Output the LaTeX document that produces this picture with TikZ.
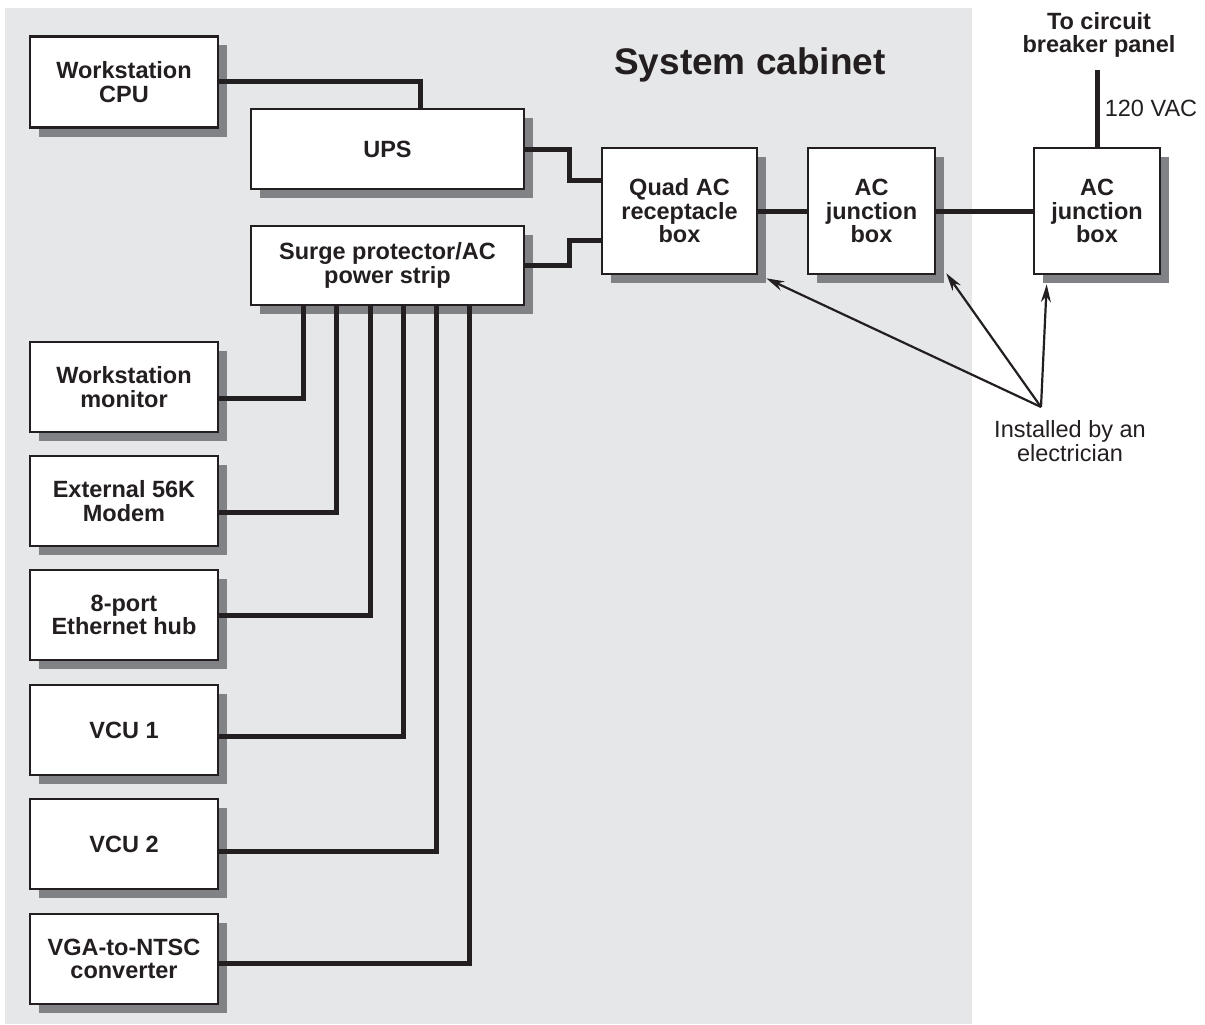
\documentclass[tikz,border=0pt]{standalone}
\usepackage{fontspec}
\setmainfont{Liberation Sans}
\usetikzlibrary{arrows.meta,shadows}
\definecolor{cabinetgray}{HTML}{E6E7E8}
\definecolor{shadowgray}{HTML}{808285}
\definecolor{ink}{HTML}{231F20}
\tikzset{
  devbox/.style={draw=ink, line width=2.6pt, fill=white, align=center, inner sep=2pt,
    font=\bfseries\fontsize{23.5}{23.5}\selectfont, text=ink,
    drop shadow={shadow xshift=9pt, shadow yshift=-9pt, fill=shadowgray, opacity=1}},
  wire/.style={draw=ink, line width=5pt},
  pointline/.style={draw=ink, line width=2.2pt, -{Stealth[length=18pt,width=10pt]}},
  note/.style={align=center, text=ink, font=\fontsize{23.5}{23.5}\selectfont},
}
\begin{document}
\begin{tikzpicture}[x=1pt, y=-1pt]
  \useasboundingbox (0,0) rectangle (1205,1025);
  \fill[cabinetgray] (5,8) rectangle (972,1024);
  \node[text=ink, font=\bfseries\fontsize{37}{37}\selectfont] (title) at (750,65) {System cabinet};

  % power chain
  \node[devbox, minimum width=188pt, minimum height=91pt] (cpu) at (124,82) {Workstation\\CPU};
  \node[devbox, minimum width=273pt, minimum height=80pt] (ups) at (387.5,149) {UPS};
  \node[devbox, minimum width=273pt, minimum height=79pt] (surge) at (387.5,265.5) {Surge protector/AC\\power strip};
  \node[devbox, minimum width=155pt, minimum height=126pt] (quad) at (679.5,211) {Quad AC\\receptacle\\box};
  \node[devbox, minimum width=127pt, minimum height=126pt] (jbox) at (871.5,211) {AC\\junction\\box};
  \node[devbox, minimum width=126pt, minimum height=126pt] (jboxout) at (1097,211) {AC\\junction\\box};

  % devices on the power strip
  \node[devbox, minimum width=188pt, minimum height=90pt] (monitor) at (124,387) {Workstation\\monitor};
  \node[devbox, minimum width=188pt, minimum height=90pt] (modem) at (124,501) {External 56K\\Modem};
  \node[devbox, minimum width=188pt, minimum height=90pt] (hub) at (124,615) {8-port\\Ethernet hub};
  \node[devbox, minimum width=188pt, minimum height=90pt] (vcu1) at (124,730) {VCU 1};
  \node[devbox, minimum width=188pt, minimum height=90pt] (vcu2) at (124,844) {VCU 2};
  \node[devbox, minimum width=188pt, minimum height=90pt] (vga) at (124,959) {VGA-to-NTSC\\converter};

  \draw[wire] (cpu.east) -| ([xshift=33pt]ups.north);
  \draw[wire] (ups.east) -- ++(44,0) |- ([yshift=31pt]quad.west);
  \draw[wire] (surge.east) -- ++(44,0) |- ([yshift=-29pt]quad.west);
  \draw[wire] (quad.east) -- (jbox.west);
  \draw[wire] (jbox.east) -- (jboxout.west);
  \coordinate (brk) at (jboxout.north |- 0,70);
  \draw[wire] (jboxout.north) -- (brk) node[midway, right, note, xshift=2pt] (vac) {120 VAC};
  \node[note, font=\bfseries\fontsize{23.5}{23.5}\selectfont] (panel) at (1099,35) {To circuit\\breaker panel};

  \foreach \dev/\px/\py in {monitor/303/398, modem/336/512, hub/370/615, vcu1/403/736, vcu2/436/851, vga/469/963}
    \draw[wire] (surge.south -| \px,0) |- (\dev.east |- 0,\py);

  % installer callout
  \coordinate (elec) at (1041,407);
  \node[note] (installed) at (1070,441) {Installed by an\\electrician};
  \draw[pointline] (elec) -- ([shift={(8pt,-3pt)}]quad.south east);
  \draw[pointline] (elec) -- ([shift={(10pt,2pt)}]jbox.south east);
  \draw[pointline] (elec) -- ([shift={(14pt,-9pt)}]jboxout.south west);
\end{tikzpicture}
\end{document}
